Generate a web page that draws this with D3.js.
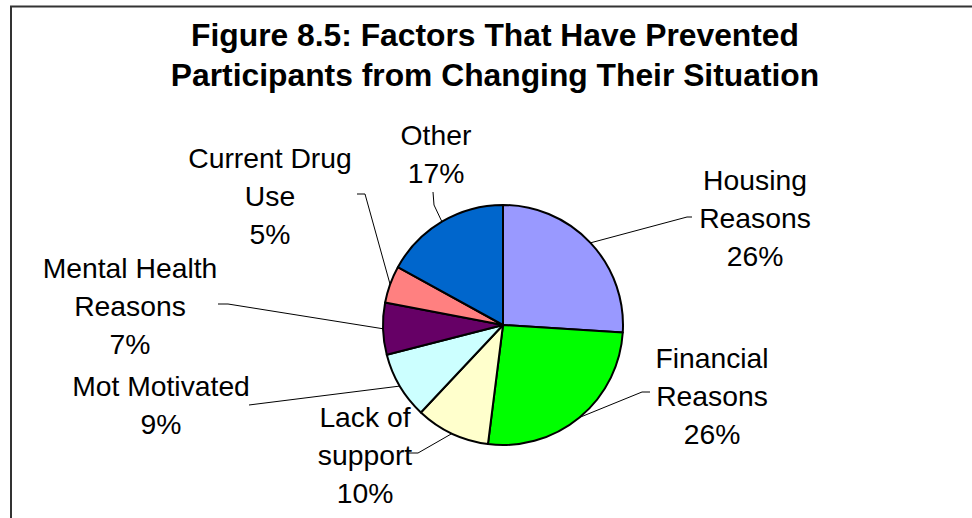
<!DOCTYPE html>
<html>
<head>
<meta charset="utf-8">
<script src="https://cdn.jsdelivr.net/npm/d3@7"></script>
<style>
  html, body { margin: 0; padding: 0; background: #fff; }
  svg { display: block; }
</style>
</head>
<body>
<svg id="chart" width="972" height="518"></svg>
<script>
// Factors that have prevented participants from changing their situation
const categories = ["Housing Reasons", "Financial Reasons", "Lack of support", "Mot Motivated",
                    "Mental Health Reasons", "Current Drug Use", "Other"];
const values = [26, 26, 10, 9, 7, 5, 17];
const colors = ["#9999FF", "#00FF00", "#FFFFCC", "#CCFFFF", "#660066", "#FF8080", "#0066CC"];
// label text broken into lines as drawn
const labelLines = [
  ["Housing", "Reasons"],
  ["Financial", "Reasons"],
  ["Lack of", "support"],
  ["Mot Motivated"],
  ["Mental Health", "Reasons"],
  ["Current Drug", "Use"],
  ["Other"]
];
const titleLines = ["Figure 8.5: Factors That Have Prevented",
                    "Participants from Changing Their Situation"];

// layout: label centre x / first baseline y, and the leader line's elbow points
const labelPos = [
  [755, 190], [712, 368], [365, 427], [161, 396], [130, 278], [270, 168], [436, 145]
];
const leaderElbows = [
  [[692, 217], [687, 217]],
  [[650, 392], [642, 392]],
  [[408, 453], [418, 453]],
  [[249, 405]],
  [[218, 304], [228, 304]],
  [[357, 194], [365, 194]],
  [[433, 192], [434, 205]]
];

const svg = d3.select("#chart");
const cx = 503, cy = 325, R = 120;
const lineH = 38;

// frame
svg.append("rect")
  .attr("x", 11).attr("y", 6.5)
  .attr("width", 1100).attr("height", 700)
  .attr("fill", "none").attr("stroke", "#333").attr("stroke-width", 2);

// title
svg.append("text")
  .attr("text-anchor", "middle")
  .attr("font-family", "'Liberation Sans', Arial, sans-serif")
  .attr("font-weight", "bold")
  .attr("font-size", 31.8)
  .attr("fill", "#000")
  .selectAll("tspan")
  .data(titleLines)
  .join("tspan")
  .attr("x", 495)
  .attr("y", (d, i) => 46 + i * 40)
  .text(d => d);

const pie = d3.pie().sort(null).value(d => d);
const arcs = pie(values);
const arc = d3.arc().innerRadius(0).outerRadius(R);

const g = svg.append("g").attr("transform", `translate(${cx},${cy})`);

g.selectAll("path.slice")
  .data(arcs)
  .join("path")
  .attr("class", "slice")
  .attr("d", arc)
  .attr("fill", (d, i) => colors[i])
  .attr("stroke", "#000")
  .attr("stroke-width", 2)
  .attr("stroke-linejoin", "round");

// leader lines: from the label elbow to the slice edge at its mid-angle
const line = d3.line();
svg.selectAll("path.leader")
  .data(arcs)
  .join("path")
  .attr("class", "leader")
  .attr("d", (d, i) => {
    const a = (d.startAngle + d.endAngle) / 2;
    const edge = [cx + R * Math.sin(a), cy - R * Math.cos(a)];
    return line([...leaderElbows[i], edge]);
  })
  .attr("fill", "none")
  .attr("stroke", "#000")
  .attr("stroke-width", 1);

// labels with category and percentage
const total = d3.sum(values);
const labels = svg.selectAll("text.label")
  .data(arcs)
  .join("text")
  .attr("class", "label")
  .attr("text-anchor", "middle")
  .attr("font-family", "'Liberation Sans', Arial, sans-serif")
  .attr("font-size", 28.3)
  .attr("fill", "#000");

labels.each(function(d, i) {
  const lines = labelLines[i].concat([Math.round(d.data / total * 100) + "%"]);
  d3.select(this).selectAll("tspan")
    .data(lines)
    .join("tspan")
    .attr("x", labelPos[i][0])
    .attr("y", (t, j) => labelPos[i][1] + j * lineH)
    .text(t => t);
});
</script>
</body>
</html>
